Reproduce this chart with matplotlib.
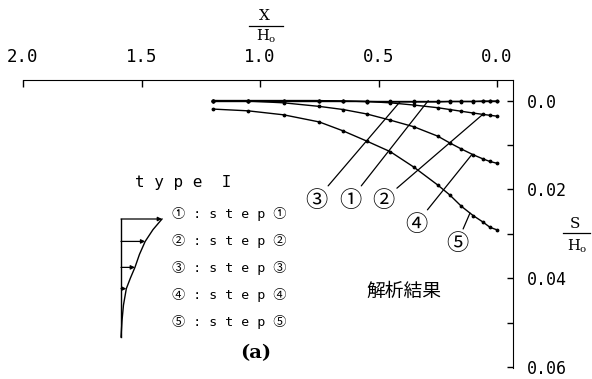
import numpy as np
import matplotlib.pyplot as plt
from matplotlib.lines import Line2D

plt.rcParams['mathtext.fontset'] = 'dejavuserif'

# horizontal distance from the wall, X/H0
x_h = [1.2, 1.05, 0.9, 0.75, 0.65, 0.55, 0.45, 0.35, 0.25, 0.2, 0.15, 0.1, 0.06, 0.03, 0.0]

# settlement S/H0 for each excavation step
s_step1 = [0.0, 0.0, 0.0, 0.0, 0.0, 0.0, 0.0, 0.0, 0.0, 0.0, 0.0, 0.0, 0.0, 0.0, 0.0]
s_step2 = [0.0, 0.0, 0.0, 0.0, 0.0001, 0.0002, 0.0005, 0.0010, 0.0016, 0.0020,
           0.0024, 0.0028, 0.0031, 0.0033, 0.0035]
s_step3 = [0.0, 0.0, 0.0, 0.0, 0.0001, 0.0002, 0.0003, 0.0003, 0.0003, 0.0002,
           0.0002, 0.0002, 0.0001, 0.0001, 0.0001]
s_step4 = [0.0, 0.0001, 0.0005, 0.0013, 0.0020, 0.0030, 0.0044, 0.0059, 0.0080, 0.0095,
           0.0109, 0.0122, 0.0131, 0.0137, 0.0141]
s_step5 = [0.0019, 0.0023, 0.0032, 0.0048, 0.0068, 0.0091, 0.0115, 0.0150, 0.0190, 0.0212,
           0.0238, 0.0259, 0.0273, 0.0285, 0.0291]

x_ticks = [2.0, 1.5, 1.0, 0.5, 0.0]
x_labels = ['2.0', '1.5', '1.0', '0.5', '0.0']
y_ticks = [0.0, 0.01, 0.02, 0.03, 0.04, 0.05, 0.06]
y_labels = ['0.0', '', '0.02', '', '0.04', '', '0.06']

# earth pressure profile of type I (relative depth, relative load)
load_depth = [0.0, 0.09, 0.19, 0.30, 0.41, 0.50, 0.59, 0.73, 0.86, 1.0]
load_value = [1.0, 0.78, 0.59, 0.45, 0.34, 0.23, 0.13, 0.06, 0.025, 0.0]
arrow_depth = [0.0, 0.19, 0.41, 0.59]

W, H = 592, 379


def fx(p):
    return p / W


def fy(p):
    return 1 - p / H


fig = plt.figure(figsize=(W / 100, H / 100), dpi=100)
ax = fig.add_axes([fx(23), fy(367.5), 490 / W, 287.5 / H])

curves = [s_step1, s_step2, s_step3, s_step4, s_step5]
for s in curves:
    ax.plot(x_h, s, color='k', lw=1.0, marker='.', ms=3.5)

ax.set_xlim(2.0, -0.0675)
ax.set_ylim(0.06007, -0.00464)
ax.spines['left'].set_visible(False)
ax.spines['bottom'].set_visible(False)
ax.xaxis.tick_top()
ax.yaxis.tick_right()
mono = 'DejaVu Sans Mono'
ax.set_xticks(x_ticks, x_labels, fontfamily=mono, fontsize=12.5)
ax.set_yticks(y_ticks, y_labels, fontfamily=mono, fontsize=12)
ax.tick_params(axis='x', direction='in', length=5, width=1, pad=10)
ax.tick_params(axis='y', direction='in', length=4, width=1, pad=10)

# circled step labels with leader lines to their curves
cjk = ['Noto Sans CJK JP', 'DejaVu Sans']
xr = x_h[::-1]
tags = [('③', s_step3, 0.41, (0.764, 0.0224)),
        ('①', s_step1, 0.29, (0.620, 0.0224)),
        ('②', s_step2, 0.06, (0.481, 0.0224)),
        ('④', s_step4, 0.105, (0.342, 0.0278)),
        ('⑤', s_step5, 0.114, (0.169, 0.0321))]
for tag, s, xa, pos in tags:
    ya = np.interp(xa, xr, s[::-1])
    ax.annotate(tag, xy=(xa, ya), xytext=pos, fontfamily=cjk, fontsize=16,
                ha='center', va='center',
                arrowprops=dict(arrowstyle='-', lw=0.9, color='k',
                                shrinkA=0, shrinkB=0))

ax.text(0.395, 0.0430, '解析結果', fontfamily=cjk, fontsize=13.5,
        ha='center', va='center')

# axis titles as fractions
serif = 'DejaVu Serif'
fig.text(fx(264), fy(16), 'X', family=serif, fontsize=11, ha='center', va='center')
fig.add_artist(Line2D([fx(249), fx(283)], [fy(26)] * 2, color='k', lw=0.9))
fig.text(fx(266), fy(36), r'H$_\mathrm{o}$', family=serif, fontsize=10.5,
         ha='center', va='center')

fig.text(fx(575), fy(224), 'S', family=serif, fontsize=11, ha='center', va='center')
fig.add_artist(Line2D([fx(563), fx(590)], [fy(233)] * 2, color='k', lw=0.9))
fig.text(fx(577), fy(246), r'H$_\mathrm{o}$', family=serif, fontsize=10.5,
         ha='center', va='center')

# legend block
fig.text(fx(135), fy(182), 't y p e  I', family=[mono], fontsize=11.5,
         ha='left', va='center')
steps = ['①', '②', '③', '④', '⑤']
row_y = [214, 241, 268, 295, 322]
for tag, yy in zip(steps, row_y):
    fig.text(fx(172), fy(yy), tag + ' : s t e p ' + tag,
             family=[mono, 'Noto Sans CJK JP'], fontsize=9.5, ha='left', va='center')

fig.text(fx(256), fy(353), '(a)', family=serif, fontweight='bold', fontsize=14,
         ha='center', va='center')

# load diagram
ax2 = fig.add_axes([fx(121), fy(337), 41 / W, 118 / H])
ax2.set_xlim(0, 1)
ax2.set_ylim(1, 0)
ax2.axis('off')
ax2.plot([0, 0], [0, 1], color='k', lw=1.0, clip_on=False)
ax2.plot(load_value, load_depth, color='k', lw=1.0, clip_on=False)
for d in arrow_depth:
    v = np.interp(d, load_depth, load_value)
    ax2.annotate('', xy=(v, d), xytext=(0, d),
                 arrowprops=dict(arrowstyle='-|>', lw=0.9, color='k',
                                 mutation_scale=6, shrinkA=0, shrinkB=0))

fig.savefig('out.png', dpi=100)
